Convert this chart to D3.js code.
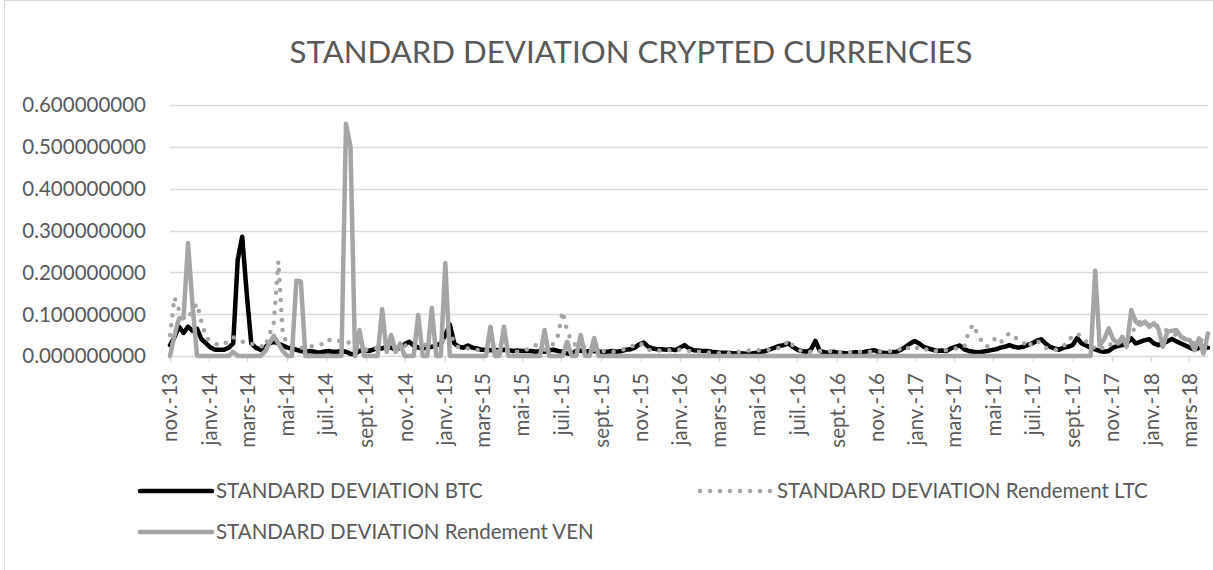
<!DOCTYPE html>
<html>
<head>
<meta charset="utf-8">
<script src="https://cdn.jsdelivr.net/npm/d3@7"></script>
<style>
  html, body { margin: 0; padding: 0; background: #fff; }
  svg { display: block; }
  text { font-family: Lato, "Open Sans", sans-serif; fill: #595959; }
</style>
</head>
<body>
<svg id="chart" width="1213" height="570"></svg>
<script>
// ---------- DATA ----------
const chartTitle = "STANDARD DEVIATION CRYPTED CURRENCIES";
const startDate = "2013-11-01";   // first weekly observation
const stepDays = 7;               // weekly observations

const seriesNames = [
  "STANDARD DEVIATION BTC",
  "STANDARD DEVIATION Rendement LTC",
  "STANDARD DEVIATION Rendement VEN"
];

const btc = [
  .026, .045, .07, .055, .07, .06, .065, .04, .03, .02,
  .015, .015, .015, .02, .03, .23, .285, .15, .03, .02,
  .015, .02, .03, .034, .03, .025, .02, .018, .015, .012,
  .01, .012, .01, .008, .01, .012, .01, .01, .012, .01,
  .005, .005, .012, .015, .012, .015, .02, .018, .022, .02,
  .015, .02, .028, .034, .025, .02, .018, .02, .022, .025,
  .03, .05, .075, .03, .022, .02, .025, .02, .018, .015,
  .015, .014, .015, .013, .015, .014, .012, .013, .012, .012,
  .012, .01, .012, .01, .014, .015, .012, .01, .006, .005,
  .012, .013, .01, .012, .012, .01, .01, .01, .012, .01,
  .012, .015, .016, .02, .028, .032, .022, .018, .016, .016,
  .015, .016, .014, .02, .026, .018, .014, .013, .012, .012,
  .01, .009, .008, .008, .007, .006, .007, .006, .005, .006,
  .008, .01, .012, .016, .02, .024, .026, .03, .022, .015,
  .012, .01, .015, .036, .012, .009, .008, .01, .008, .007,
  .006, .008, .009, .008, .01, .012, .014, .01, .008, .007,
  .009, .01, .015, .022, .03, .036, .03, .022, .018, .015,
  .012, .013, .012, .018, .022, .025, .016, .012, .01, .009,
  .01, .012, .014, .016, .02, .022, .026, .022, .02, .022,
  .026, .03, .036, .04, .03, .022, .018, .015, .02, .022,
  .026, .043, .03, .025, .02, .016, .012, .01, .012, .02,
  .024, .026, .03, .042, .03, .034, .038, .04, .03, .026,
  .03, .035, .041, .035, .03, .025, .02, .015, .02, .022,
  .02
];

const ltc = [
  .05, .14, .11, .09, .09, .11, .125, .08, .045, .035,
  .03, .025, .03, .035, .045, .04, .035, .03, .028, .03,
  .025, .02, .05, .08, .226, .05, .03, .028, .025, .02,
  .02, .022, .025, .025, .03, .04, .035, .035, .038, .035,
  .03, .02, .015, .015, .015, .018, .02, .02, .02, .02,
  .018, .02, .025, .025, .028, .03, .028, .025, .025, .028,
  .03, .045, .06, .03, .02, .02, .018, .017, .015, .012,
  .01, .01, .012, .01, .01, .012, .012, .01, .012, .015,
  .02, .026, .02, .015, .02, .03, .05, .106, .06, .035,
  .025, .022, .02, .018, .015, .015, .012, .01, .01, .012,
  .015, .016, .02, .028, .031, .025, .015, .013, .013, .014,
  .013, .014, .013, .015, .015, .012, .01, .01, .01, .009,
  .008, .007, .006, .006, .007, .008, .01, .012, .013, .014,
  .014, .013, .014, .015, .016, .02, .022, .038, .025, .015,
  .012, .01, .01, .01, .012, .012, .012, .01, .009, .008,
  .008, .009, .01, .01, .009, .01, .01, .011, .011, .012,
  .012, .012, .018, .024, .015, .018, .02, .02, .012, .012,
  .012, .012, .014, .016, .018, .02, .022, .06, .075, .05,
  .034, .022, .035, .042, .031, .045, .055, .045, .04, .035,
  .02, .032, .038, .03, .02, .016, .014, .018, .022, .04,
  .045, .054, .045, .035, .03, .015, .018, .02, .03, .025,
  .03, .035, .04, .05, .075, .082, .075, .075, .079, .07,
  .065, .06, .055, .05, .045, .04, .035, .03, .04, .035,
  .03
];

const ven = [
  0, .05, .09, .09, .27, .12, 0, 0, 0, 0,
  0, 0, 0, 0, .01, 0, 0, 0, 0, 0,
  0, .01, .03, .048, .03, .012, 0, 0, .18, .178,
  0, 0, 0, 0, 0, 0, 0, 0, 0, .555,
  .5, 0, .062, 0, 0, 0, 0, .112, .01, .05,
  .01, .03, 0, 0, 0, .098, 0, 0, .115, 0,
  0, .222, 0, 0, 0, 0, 0, 0, 0, 0,
  0, .07, 0, 0, .07, 0, 0, 0, 0, 0,
  0, 0, 0, .062, 0, 0, 0, 0, .034, 0,
  0, .05, 0, 0, .043, 0, 0, 0, 0, 0,
  0, 0, 0, 0, 0, 0, 0, 0, 0, 0,
  0, 0, 0, 0, 0, 0, 0, 0, 0, 0,
  0, 0, 0, 0, 0, 0, 0, 0, 0, 0,
  0, 0, 0, 0, 0, 0, 0, 0, 0, 0,
  0, 0, 0, 0, 0, 0, 0, 0, 0, 0,
  0, 0, 0, 0, 0, 0, 0, 0, 0, 0,
  0, 0, 0, 0, 0, 0, 0, 0, 0, 0,
  0, 0, 0, 0, 0, 0, 0, 0, 0, 0,
  0, 0, 0, 0, 0, 0, 0, 0, 0, 0,
  0, 0, 0, 0, 0, 0, 0, 0, 0, 0,
  0, 0, 0, 0, 0, .204, .025, .04, .066, .04,
  .03, .046, .022, .11, .082, .074, .082, .07, .078, .066,
  .022, .058, .06, .062, .046, .04, .038, .014, .042, .006,
  .054
];

const yTicks = [0, 0.1, 0.2, 0.3, 0.4, 0.5, 0.6];
const monthLabels = ["janv.", "févr.", "mars", "avr.", "mai", "juin",
                     "juil.", "août", "sept.", "oct.", "nov.", "déc."];

// ---------- LAYOUT ----------
const svg = d3.select("#chart");
const plot = { left: 170, right: 1208, top: 105, bottom: 356 };
const grid = "#D9D9D9";
const gray = "#A5A5A5";

svg.append("rect").attr("x", 4.5).attr("y", 0.5).attr("width", 1400).attr("height", 1000)
  .attr("fill", "#fff").attr("stroke", grid).attr("stroke-width", 1);

const parse = d3.timeParse("%Y-%m-%d");
const t0 = parse(startDate);
const dates = btc.map((_, i) => d3.timeDay.offset(t0, i * stepDays));

const x = d3.scaleTime().domain([dates[0], dates[dates.length - 1]]).range([plot.left, plot.right]);
const y = d3.scaleLinear().domain([0, 0.6]).range([plot.bottom, plot.top]);

// gridlines
svg.append("g").selectAll("line").data(yTicks).join("line")
  .attr("x1", plot.left).attr("x2", plot.right)
  .attr("y1", d => Math.round(y(d)) + 0.5).attr("y2", d => Math.round(y(d)) + 0.5)
  .attr("stroke", grid).attr("stroke-width", 1.4);

// y labels
svg.append("g").selectAll("text").data(yTicks).join("text")
  .attr("x", 146).attr("y", d => y(d)).attr("dy", "0.36em")
  .attr("text-anchor", "end").style("font-size", "20.5px")
  .text(d => d3.format(".9f")(d));

// x axis ticks (every 2 months)
const xTickDates = d3.timeMonth.every(2).range(dates[0], d3.timeDay.offset(dates[dates.length - 1], 1));
const fmtLabel = d => monthLabels[d.getMonth()] + "-" + d3.timeFormat("%y")(d);
const xg = svg.append("g");
xg.selectAll("line").data(xTickDates).join("line")
  .attr("x1", d => Math.round(x(d)) + 0.5).attr("x2", d => Math.round(x(d)) + 0.5)
  .attr("y1", plot.bottom).attr("y2", plot.bottom + 6)
  .attr("stroke", grid).attr("stroke-width", 1.4);
xg.selectAll("text").data(xTickDates).join("text")
  .attr("transform", d => `translate(${x(d)},${373}) rotate(-90)`)
  .attr("text-anchor", "end").attr("dy", "0.36em")
  .style("font-size", "20.5px")
  .text(fmtLabel);

// series
const line = d3.line().x((d, i) => x(dates[i])).y(d => y(d)).curve(d3.curveLinear);
const series = [
  { name: seriesNames[0], values: btc, color: "#000", dash: null },
  { name: seriesNames[1], values: ltc, color: gray, dash: "0,10" },
  { name: seriesNames[2], values: ven, color: gray, dash: null }
];
svg.append("g").selectAll("path").data(series).join("path")
  .attr("d", d => line(d.values))
  .attr("fill", "none")
  .attr("stroke", d => d.color)
  .attr("stroke-width", 4.5)
  .attr("stroke-linejoin", "round")
  .attr("stroke-linecap", "round")
  .attr("stroke-dasharray", d => d.dash);

// title
svg.append("text").attr("x", 631).attr("y", 63).attr("text-anchor", "middle")
  .style("font-size", "31.2px").text(chartTitle);

// legend
const legendPos = [
  { x1: 140, x2: 212, ly: 491, tx: 216 },
  { x1: 700, x2: 772, ly: 491, tx: 777 },
  { x1: 140, x2: 212, ly: 532, tx: 216 }
];
const lg = svg.append("g").selectAll("g").data(series).join("g");
lg.append("line")
  .attr("x1", (d, i) => legendPos[i].x1).attr("x2", (d, i) => legendPos[i].x2)
  .attr("y1", (d, i) => legendPos[i].ly).attr("y2", (d, i) => legendPos[i].ly)
  .attr("stroke", d => d.color).attr("stroke-width", 4.5)
  .attr("stroke-linecap", "round")
  .attr("stroke-dasharray", d => d.dash);
lg.append("text")
  .attr("x", (d, i) => legendPos[i].tx).attr("y", (d, i) => legendPos[i].ly)
  .attr("dy", "0.36em").style("font-size", "20.5px")
  .text(d => d.name);
</script>
</body>
</html>
